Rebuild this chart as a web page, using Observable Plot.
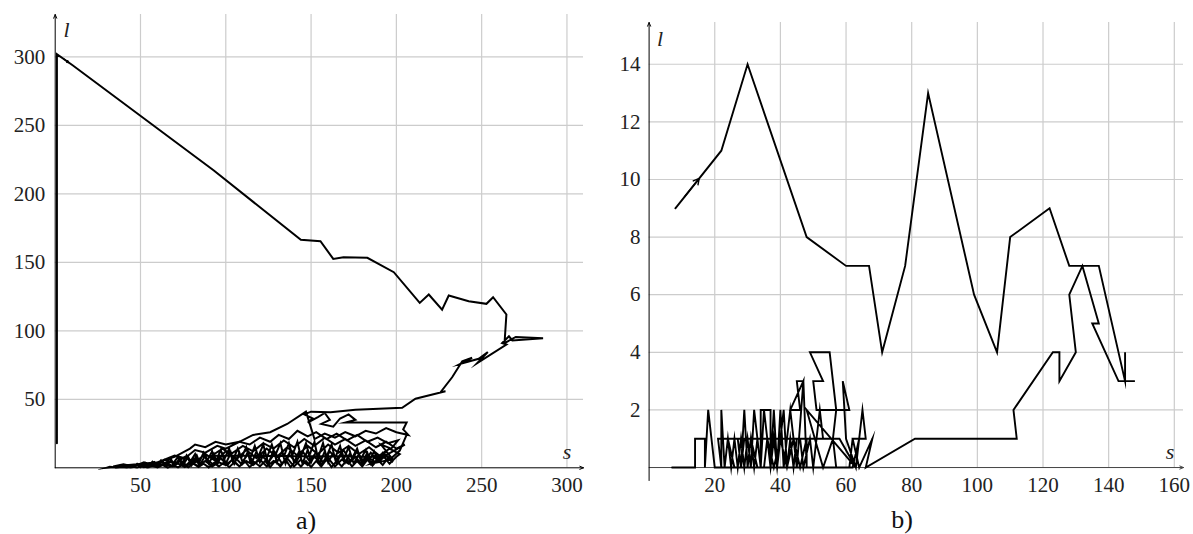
<!DOCTYPE html>
<html><head><meta charset="utf-8">
<script src="https://cdn.jsdelivr.net/npm/d3@7"></script>
<script src="https://cdn.jsdelivr.net/npm/@observablehq/plot@0.6"></script>
<style>
body{margin:0;background:#fff;}
#wrap{position:relative;width:1193px;height:534px;overflow:hidden;font-family:"Liberation Serif","DejaVu Serif",serif;}
.pl{position:absolute;top:0;}
.lab{position:absolute;font-style:italic;font-size:22px;line-height:1;transform:translate(-50%,-50%);color:#222;}
.cap{position:absolute;font-size:26px;line-height:1;transform:translate(-50%,-50%);color:#111;}
</style></head><body><div id="wrap"></div>
<script>
// ---------- data ----------
const ticksSA = [50, 100, 150, 200, 250, 300];
const ticksLA = [50, 100, 150, 200, 250, 300];
const ticksSB = [20, 40, 60, 80, 100, 120, 140, 160];
const ticksLB = [2, 4, 6, 8, 10, 12, 14];

// panel a) trajectory (s, l): upper excursion
const pathAUpper = [
[1,18],[1,302],[10,294],[93,217],[144,166.4],[155.5,165.4],[163,152.5],[169,153.7],[183,153.3],[198.5,142.8],
[213.7,120.4],[219,126.5],[226.8,115.5],[230.7,125.8],[242.4,121.6],[252.8,119.7],[256.7,124.5],[264.5,111.9],
[263.4,91],[270,95.5],[286,94.5],[268,93],[266,96],[262,91],[264.5,90],[247.4,76.4],[253.6,84.4],[248.3,79.6],
[237.6,75.9],[244.4,80.3],[238.6,77.8],[232.7,66.1],[225.9,55.2],[228.8,55.9],[211.2,50.4],[203.4,43.8],
[176,42.3],[161.4,40.6],[150,41]
];
// panel a) trajectory: tangled part near the s axis
const pathACluster = [
[146,39],[151,36],[148,33],[154,37],[158,40],[161,35],[156,32],[163,30],[167,36],[172,39],[176,35],[170,33],
[206,33],[204,28],[207,24],[200,26],[194,29],[188,25],[182,27],[176,23],[170,26],[164,22],[158,25],[152,21],
[147,41],[136,32],[126,26],[116,24],[108,19],[100,17],[94,19],[88,15],[82,17],[79,14],[70,8],[60,4],
[34,1],[40,2.5],[46,1],[52,4],[58,2],[64,6],[70,3],[76,8],[82,4],[88,10],[94,5],[100,12],[106,6],[112,13],
[118,7],[124,14],[130,8],[136,15],[142,9],[148,16],[154,10],[160,17],[166,11],[172,16],[178,10],[184,15],
[190,9],[196,14],[202,10],
[200,8],[196,3],[192,9],[188,4],[184,7],[180,2],[176,8],[172,3],[168,6],[164,1],[160,7],[156,3],[152,8],
[148,2],[144,6],[140,1],[136,7],[132,2],[128,5],[124,1],[120,6],[116,2],[112,5],[108,1],[104,6],[100,2],
[96,4],[92,1],[88,5],[84,1],[80,4],[76,0.5],[72,3],[68,1],[64,3],[60,0.5],[56,2],[52,0.5],[48,2],[44,0.3],
[40,1.5],[36,0.3],[32,0.8],[30,0],
[60,4],[70,9],[76,7],[82,13],[88,11],[95,16],[100,14],[108,19],[114,17],[120,22],[126,19],[131,24],[137,21],
[142,27],[148,23],[153,26],[159,21],[165,25],[171,20],[177,24],[183,19],[189,22],[195,18],[201,20],[197,14],
[191,17],
[198,6],[194,12],[189,5],[185,11],[181,4],[177,12],[173,5],[169,13],[165,6],[161,12],[157,4],[153,11],[149,5],
[145,12],[141,4],[137,10],[133,3],[129,11],[125,4],[121,9],[117,3],[113,10],[109,3],[105,8],[101,2],[97,7],
[93,2],[89,6],[85,2],[81,7],[77,2],[73,5],[69,1],[65,4],[61,1],[57,3],[53,1],[49,2.5],[45,0.5],[41,2],[37,0.5],
[40,0.5],[43,2],[45,0.3],[48,3],[50,0.5],[53,3.5],[55,0.5],[58,4],[60,1],[63,5],[65,1],[68,6],[70,1.5],[73,7],
[75,2],[78,8],[80,2],[83,9],[85,2.5],[88,9],[90,3],[93,10],[95,2.5],[98,10],[100,3],[103,11],[105,3],[108,11],
[110,3.5],[113,12],[115,3],[118,12],[120,4],[123,12],[125,3],[128,13],[130,4],[133,12],[135,3],[138,13],
[140,4],[143,12],[145,3],[148,13],[150,4],[153,12],[155,3],[158,12],[160,4],[163,11],[165,3],[168,12],[170,4],
[173,11],[175,3],[178,10],[180,4],[183,11],[185,3],[188,10],[190,5],[194,9],[198,4],
[195,7],[192,2],[189,6],[186,1.5],[183,6],[180,1],[177,5],[174,1],[171,6],[168,1],[165,5],[162,0.5],[159,6],
[156,1],[153,5],[150,0.5],[147,5],[144,1],[141,5],[138,0.5],[135,6],[132,1],[129,5],[126,0.5],[123,5],[120,1],
[117,4],[114,0.5],[111,5],[108,1],[105,4],[102,0.5],[99,4],[96,1],[93,3.5],[90,0.3],[87,3],[84,0.5],[81,3],
[78,0.3],[75,2.5],[72,0.3],[69,2],[66,0.2],[63,2],[60,0.2],[57,1.5],[54,0.2],[51,1.2],[48,0.2],[45,1],[42,0.2],
[39,0.6],[35,0],
[52,2.5],[54,0.8],[57,4.5],[59,1.5],[62,5.5],[64,2],[67,7],[69,3],[72,8],[74,2.5],[77,9],[79,4],[82,10],
[84,3],[87,11],[89,5],[92,12],[94,4],[97,13],[99,6],[102,14],[104,5],[107,14],[109,7],[112,15],[114,6],
[117,16],[119,8],[122,17],[124,7],[127,17],[129,9],[132,18],[134,8],[137,18],[139,9],[142,19],[144,8],
[147,18],[149,9],[152,19],[154,7],[157,18],[159,8],[162,17],[164,7],[167,16],[169,6],[172,15],[174,7],
[177,14],[179,6],[182,13],[184,5],[187,12],[189,6],[192,11],[195,8],
[92,9],[98,14],[103,10],[110,16],[116,12],[122,18],[128,14],[134,20],[140,15],[146,21],[152,16],[158,22],
[164,17],[170,21],[176,16],[182,20],[188,15],[194,19],[200,14],[205,17],
[185,3],[196,5.8],[202,12.6],[206,24]
];

// panel b) trajectory (s, l): upper excursion and return
const pathBUpper = [
[8,9],[22,11],[30,14],[48,8],[60,7],[67,7],[71,4],[78,7],[85,13],[99,6],[106,4],[110,8],[122,9],[128,7],
[137,7],[145,3],[145,4],[145,3],[148,3],[143,3],[135,5],[137,5],[132,7],[128,6],[130,4],[125,3],[125,4],
[123,4],[111,2],[112,1],[81,1],[66,0]
];
// panel b) trajectory: tangled part near the s axis
const pathBCluster = [
[68,1],[64,0],[62,1],[66,1],[65,2],[63,0],[60,1],[59,3],[61,2],[57,2],[55,4],[49,4],[53,3],[50,3],[51,2],
[57,2],[56,1],[53,0],[48,2],[63,0],[58,1],[48,1],[48,0],[47,3],[45,3],[46,2],[43,2],[47,3],[45,0],[43,2],
[41,0],[40,2],[39,0],[38,2],[37,0],[37,2],[34,2],[34,0],[33,1],[32,2],[31,0],[30,1],[29,0],[28,1],[27,0],
[26,1],[25,0],[24,1],[23,0],[22,2],[22,0],[21,1],[23,1],[48,1],[46,0],[44,1],[42,0],[40,1],[38,0],[36,1],
[35,0],[33,0],[31,1],[29,1],[28,0],[26,0],[24,1],[23,0],
[24,1],[25,0],[26,1],[27,1],[28,0],[29,2],[30,0],[31,1],[32,0],[33,1],[34,0],[35,2],[36,1],[37,0],[38,1],
[39,0],[40,1],[41,2],[42,0],[43,1],[44,0],[45,1],[46,1],[47,0],[49,1],[50,0],[52,2],[53,1],[56,1],[57,0],
[61,0],[62,1],[64,1],[62,0],[57,0],[20,0],[18,2],[17,0],[17,1],[14,1],[14,0],[7,0]
];

// ---------- drawing ----------
const FONT = '"Liberation Serif", "DejaVu Serif", serif';
function pointAlong(path, i, t) {
  const a = path[i], b = path[i + 1];
  return [a[0] + (b[0] - a[0]) * t, a[1] + (b[1] - a[1]) * t];
}

function panel(o) {
  const [x0, x1] = o.xDomain, [y0, y1] = o.yDomain;
  const path = o.upper.concat(o.cluster);
  const p0 = pointAlong(path, o.arrowSeg, o.arrowT - 0.3);
  const p1 = pointAlong(path, o.arrowSeg, o.arrowT + 0.02);
  return Plot.plot({
    width: o.width, height: o.height,
    marginLeft: o.mL, marginRight: o.mR, marginTop: o.mT, marginBottom: o.mB,
    x: {domain: o.xDomain, axis: null},
    y: {domain: o.yDomain, axis: null},
    style: {fontFamily: FONT, background: "white", overflow: "visible"},
    marks: [
      Plot.ruleX(o.xTicks, {x: d => d, y1: 0, y2: y1, stroke: "#cccccc", strokeWidth: 1.2}),
      Plot.ruleY(o.yTicks, {y: d => d, x1: 0, x2: x1, stroke: "#cccccc", strokeWidth: 1.2}),
      Plot.arrow([0], {x1: 0, x2: x1, y1: 0, y2: 0, stroke: o.xAxisColor, strokeWidth: 1, headLength: 6, headAngle: 45}),
      Plot.arrow([0], {x1: 0, x2: 0, y1: y0, y2: y1, stroke: "black", strokeWidth: 1, headLength: 6, headAngle: 45}),
      Plot.line(path, {x: d => d[0], y: d => d[1], stroke: "black", strokeWidth: o.lineW,
        strokeLinejoin: "miter", strokeMiterlimit: 10, curve: "linear"}),
      Plot.arrow([[p0, p1]], {x1: d => d[0][0], y1: d => d[0][1], x2: d => d[1][0], y2: d => d[1][1],
        stroke: "black", strokeWidth: 1.4, headLength: 7, headAngle: 55}),
      Plot.text(o.xTicks, {x: d => d, y: 0, dy: o.xdy, text: d => String(d), fontSize: 21,
        fontFamily: FONT, fill: "#222", textAnchor: "middle", lineAnchor: "middle"}),
      Plot.text(o.yTicks, {x: 0, y: d => d, dx: o.ydx, text: d => String(d), fontSize: 21,
        fontFamily: FONT, fill: "#222", textAnchor: "end", lineAnchor: "middle"})
    ]
  });
}

const wrap = document.getElementById("wrap");

const a = panel({
  upper: pathAUpper, cluster: pathACluster, xTicks: ticksSA, yTicks: ticksLA,
  xDomain: [0, 309.7], yDomain: [0, 330.9],
  width: 596, height: 534, mL: 54.7, mR: 13, mT: 14, mB: 66.7, lineW: 2,
  arrowSeg: 1, arrowT: 0.75, xdy: 17, ydx: -10, xAxisColor: "black"
});
a.classList.add("pl"); a.style.left = "0px";
wrap.appendChild(a);

const b = panel({
  upper: pathBUpper, cluster: pathBCluster, xTicks: ticksSB, yTicks: ticksLB,
  xDomain: [0, 162.8], yDomain: [-0.45, 15.45],
  width: 597, height: 534, mL: 52.6, mR: 10, mT: 22, mB: 54, lineW: 1.9,
  arrowSeg: 0, arrowT: 0.5, xdy: 18, ydx: -8.5, xAxisColor: "#444"
});
b.classList.add("pl"); b.style.left = "596px";
wrap.appendChild(b);

function addText(cls, txt, x, y) {
  const el = document.createElement("div");
  el.className = cls; el.textContent = txt;
  el.style.left = x + "px"; el.style.top = y + "px";
  wrap.appendChild(el);
}
addText("lab", "l", 66.5, 30);
addText("lab", "s", 567, 452);
addText("lab", "l", 660, 39);
addText("lab", "s", 1170, 452);
addText("cap", "a)", 306, 521);
addText("cap", "b)", 902, 520);
</script></body></html>
